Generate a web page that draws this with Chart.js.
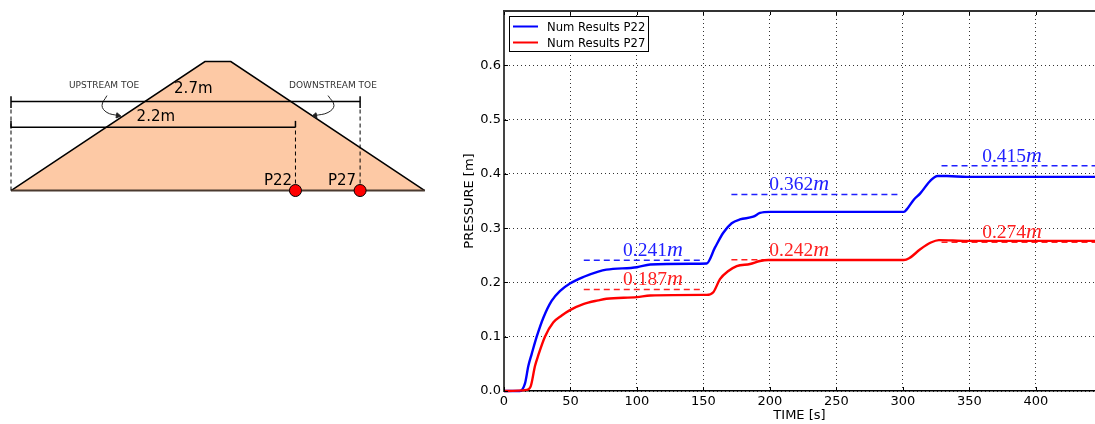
<!DOCTYPE html>
<html>
<head>
<meta charset="utf-8">
<title>Pressure at P22 and P27</title>
<script src="https://cdn.jsdelivr.net/npm/chart.js@4"></script>
<style>
    html, body { margin: 0; padding: 0; background: #fff; overflow: hidden; }
    canvas { position: absolute; top: 0; }
    #dam { left: 0; }
    #pressure { left: 440px; }
</style>
</head>
<body>
<canvas id="dam" width="440" height="424"></canvas>
<canvas id="pressure" width="655" height="424"></canvas>
<script>
// pressure curves
const timeP22 = [0, 12, 15.8, 18.3, 20.8, 24.6, 29.6, 35.8, 42, 49.6, 59.6, 70.9, 77, 100, 110, 140, 152.4, 158.6, 164.9, 171.2, 177.4, 187.4, 192.5, 200, 300.7, 303, 308, 313, 320.7, 326, 333, 348, 445];
const pressureP22 = [0, 0, 0.014, 0.046, 0.068, 0.1, 0.135, 0.166, 0.184, 0.198, 0.21, 0.22, 0.2235, 0.228, 0.233, 0.2345, 0.235, 0.264, 0.2915, 0.309, 0.316, 0.321, 0.328, 0.33, 0.33, 0.335, 0.352, 0.364, 0.3877, 0.396, 0.396, 0.3944, 0.3944];
const timeP27 = [0, 17, 20, 23.3, 25.8, 30.8, 37, 43.4, 49.6, 59.6, 70.9, 77, 100, 110, 150, 152.4, 157.4, 162.4, 168.7, 175, 185, 192.5, 198.7, 300.7, 304.6, 313, 321, 327, 348, 445];
const pressureP27 = [0, 0.002, 0.008, 0.046, 0.066, 0.1, 0.126, 0.139, 0.149, 0.16, 0.167, 0.17, 0.173, 0.176, 0.177, 0.177, 0.182, 0.206, 0.221, 0.23, 0.234, 0.2394, 0.2412, 0.2412, 0.2444, 0.261, 0.2735, 0.278, 0.2765, 0.2765];

// measured levels: value, start and end time of each dashed line
const levelP22 = [0.241, 0.362, 0.415];
const levelP22From = [60, 171, 329];
const levelP22To = [150, 297, 445];
const levelP27 = [0.187, 0.242, 0.274];
const levelP27From = [60, 171, 329];
const levelP27To = [150, 200, 445];
const levelLabelTime = [112, 222, 382];

const seriesNames = ['Num Results P22', 'Num Results P27'];
const xTicks = [0, 50, 100, 150, 200, 250, 300, 350, 400];
const yTicks = [0, 0.1, 0.2, 0.3, 0.4, 0.5, 0.6];

// dam section, in metres
const damX = [0, 1.5, 1.7, 3.2];
const damY = [0, 1, 1, 0];
const gaugeNames = ['P22', 'P27'];
const gaugeX = [2.2, 2.7];
const gaugeY = [0, 0];
const spanLengths = [2.7, 2.2];
const spanHeights = [0.69, 0.49];

function toPoints(xs, ys) {
    return xs.map((x, i) => ({ x: x, y: ys[i] }));
}

function levelLine(value, from, to, color) {
    return {
        data: [{ x: from, y: value }, { x: to, y: value }],
        showLine: true,
        borderColor: color,
        borderWidth: 1.5,
        borderDash: [6, 4],
        pointRadius: 0
    };
}

function diagramLine(points, extra) {
    return Object.assign({
        data: points,
        showLine: true,
        borderColor: '#000',
        borderWidth: 1.5,
        pointRadius: 0
    }, extra);
}

// frame, inward ticks, legend and the value labels of the pressure chart
const pressureExtras = {
    id: 'pressureExtras',
    afterDatasetsDraw(chart) {
        const ctx = chart.ctx;
        const area = chart.chartArea;
        const x = chart.scales.x;
        const y = chart.scales.y;

        ctx.save();
        ctx.strokeStyle = '#000';
        ctx.lineWidth = 1;
        ctx.beginPath();
        xTicks.forEach(v => {
            const px = Math.round(x.getPixelForValue(v)) + 0.5;
            ctx.moveTo(px, area.bottom);
            ctx.lineTo(px, area.bottom - 4);
            ctx.moveTo(px, area.top);
            ctx.lineTo(px, area.top + 4);
        });
        yTicks.forEach(v => {
            const py = Math.round(y.getPixelForValue(v)) + 0.5;
            ctx.moveTo(area.left, py);
            ctx.lineTo(area.left + 4, py);
        });
        ctx.stroke();

        // top spine
        ctx.strokeStyle = '#333';
        ctx.lineWidth = 2;
        ctx.beginPath();
        ctx.moveTo(area.left - 1, area.top);
        ctx.lineTo(area.right, area.top);
        ctx.stroke();

        // legend box
        const boxX = area.left + 5.5;
        const boxY = area.top + 5.5;
        ctx.fillStyle = '#fff';
        ctx.strokeStyle = '#000';
        ctx.lineWidth = 1;
        ctx.fillRect(boxX, boxY, 139, 35);
        ctx.strokeRect(boxX, boxY, 139, 35);
        ctx.font = '11.6px "DejaVu Sans"';
        ctx.textBaseline = 'middle';
        seriesNames.forEach((name, i) => {
            const rowY = boxY + 10 + i * 16;
            ctx.strokeStyle = i === 0 ? '#0000ff' : '#ff0000';
            ctx.lineWidth = 2;
            ctx.beginPath();
            ctx.moveTo(boxX + 3.5, rowY);
            ctx.lineTo(boxX + 28.5, rowY);
            ctx.stroke();
            ctx.fillStyle = '#000';
            ctx.fillText(name, boxX + 37.5, rowY + 1);
        });

        // value labels sit just above their dashed line
        ctx.textBaseline = 'alphabetic';
        function levelLabel(value, t, color) {
            const number = value.toFixed(3);
            ctx.fillStyle = color;
            ctx.font = '19.5px "Liberation Serif"';
            const w1 = ctx.measureText(number).width;
            ctx.font = 'italic 22px "Liberation Serif"';
            const w2 = ctx.measureText('m').width;
            const left = x.getPixelForValue(t) - (w1 + w2) / 2;
            const base = y.getPixelForValue(value) - 4;
            ctx.font = '19.5px "Liberation Serif"';
            ctx.fillText(number, left, base);
            ctx.font = 'italic 22px "Liberation Serif"';
            ctx.fillText('m', left + w1, base);
        }
        levelP22.forEach((v, i) => levelLabel(v, levelLabelTime[i], '#2020ff'));
        levelP27.forEach((v, i) => levelLabel(v, levelLabelTime[i], '#ff2020'));
        ctx.restore();
    }
};

new Chart(document.getElementById('pressure'), {
    type: 'scatter',
    data: {
        datasets: [
            {
                label: seriesNames[0],
                data: toPoints(timeP22, pressureP22),
                showLine: true,
                cubicInterpolationMode: 'monotone',
                borderColor: '#0000ff',
                borderWidth: 2.4,
                pointRadius: 0,
                clip: 3
            },
            {
                label: seriesNames[1],
                data: toPoints(timeP27, pressureP27),
                showLine: true,
                cubicInterpolationMode: 'monotone',
                borderColor: '#ff0000',
                borderWidth: 2.4,
                pointRadius: 0,
                clip: 3,
                order: -1
            }
        ].concat(
            levelP22.map((v, i) => levelLine(v, levelP22From[i], levelP22To[i], '#2020ff')),
            levelP27.map((v, i) => levelLine(v, levelP27From[i], levelP27To[i], '#ff2020'))
        )
    },
    options: {
        responsive: false,
        animation: false,
        layout: { padding: { top: 11, right: 0, bottom: 0, left: 0 } },
        plugins: { legend: { display: false }, tooltip: { enabled: false } },
        scales: {
            x: {
                type: 'linear',
                min: 0,
                max: 444.4,
                afterFit: s => { s.height = 33; },
                afterBuildTicks: s => { s.ticks = xTicks.map(v => ({ value: v })); },
                grid: { color: '#333', drawTicks: false, lineWidth: 1 },
                border: { color: '#000', width: 1.5, dash: [1, 3] },
                ticks: {
                    color: '#000',
                    padding: 3,
                    maxRotation: 0,
                    autoSkip: false,
                    font: { family: 'DejaVu Sans', size: 13 },
                    callback: v => String(v)
                },
                title: {
                    display: true,
                    text: 'TIME [s]',
                    color: '#000',
                    padding: { top: 0, bottom: 1 },
                    font: { family: 'DejaVu Sans', size: 13 }
                }
            },
            y: {
                min: 0,
                max: 0.7,
                afterFit: s => { s.width = 64; },
                afterBuildTicks: s => { s.ticks = yTicks.map(v => ({ value: v })); },
                grid: { color: '#333', drawTicks: false, lineWidth: 1 },
                border: { color: '#444', width: 2, dash: [1, 3] },
                ticks: {
                    color: '#000',
                    padding: 3,
                    autoSkip: false,
                    font: { family: 'DejaVu Sans', size: 13 },
                    callback: v => v.toFixed(1)
                },
                title: {
                    display: true,
                    text: 'PRESSURE [m]',
                    color: '#000',
                    padding: { top: 22, bottom: 0 },
                    font: { family: 'DejaVu Sans', size: 13 }
                }
            }
        }
    },
    plugins: [pressureExtras]
});

// labels of the dam section, placed in metres
const damLabels = {
    id: 'damLabels',
    afterDatasetsDraw(chart) {
        const ctx = chart.ctx;
        const x = chart.scales.x;
        const y = chart.scales.y;
        ctx.save();
        ctx.textAlign = 'center';
        ctx.textBaseline = 'middle';
        ctx.fillStyle = '#000';
        ctx.font = '15px "DejaVu Sans"';
        ctx.fillText(spanLengths[0] + 'm', x.getPixelForValue(1.41), y.getPixelForValue(0.79));
        ctx.fillText(spanLengths[1] + 'm', x.getPixelForValue(1.12), y.getPixelForValue(0.57));
        ctx.fillText(gaugeNames[0], x.getPixelForValue(2.065), y.getPixelForValue(0.07));
        ctx.fillText(gaugeNames[1], x.getPixelForValue(2.56), y.getPixelForValue(0.07));
        ctx.fillStyle = '#333';
        ctx.font = '9px "DejaVu Sans"';
        ctx.fillText('UPSTREAM TOE', x.getPixelForValue(0.72), y.getPixelForValue(0.81));
        ctx.fillText('DOWNSTREAM TOE', x.getPixelForValue(2.49), y.getPixelForValue(0.81));
        ctx.restore();
    }
};

const dashed = { borderWidth: 1, borderDash: [4, 3] };

new Chart(document.getElementById('dam'), {
    type: 'scatter',
    data: {
        datasets: [
            // gauges on top, the dam body last so it is painted first
            {
                data: toPoints(gaugeX, gaugeY),
                pointRadius: 6,
                pointBackgroundColor: '#ff0000',
                pointBorderColor: '#000',
                pointBorderWidth: 1
            },
            diagramLine([{ x: 0, y: spanHeights[0] }, { x: spanLengths[0], y: spanHeights[0] }]),
            diagramLine([{ x: 0, y: spanHeights[1] }, { x: spanLengths[1], y: spanHeights[1] }]),
            diagramLine([{ x: 0, y: 0.64 }, { x: 0, y: 0.73 }]),
            diagramLine([{ x: 0, y: 0.48 }, { x: 0, y: 0.54 }]),
            diagramLine([{ x: spanLengths[0], y: 0.64 }, { x: spanLengths[0], y: 0.73 }]),
            diagramLine([{ x: spanLengths[1], y: 0.49 }, { x: spanLengths[1], y: 0.54 }]),
            diagramLine([{ x: 0, y: 0 }, { x: 0, y: 0.64 }], dashed),
            diagramLine([{ x: spanLengths[1], y: 0 }, { x: spanLengths[1], y: 0.49 }], dashed),
            diagramLine([{ x: spanLengths[0], y: 0 }, { x: spanLengths[0], y: 0.64 }], dashed),
            // curved arrows from the toe labels
            diagramLine([{ x: 0.742, y: 0.736 }, { x: 0.704, y: 0.659 }, { x: 0.742, y: 0.605 }, { x: 0.827, y: 0.581 }], {
                borderWidth: 1,
                borderColor: '#222',
                tension: 0.4,
                pointStyle: 'triangle',
                pointRadius: [0, 0, 0, 3],
                pointRotation: 100,
                pointBackgroundColor: '#222',
                pointBorderColor: '#222'
            }),
            diagramLine([{ x: 2.452, y: 0.736 }, { x: 2.498, y: 0.659 }, { x: 2.452, y: 0.605 }, { x: 2.351, y: 0.581 }], {
                borderWidth: 1,
                borderColor: '#222',
                tension: 0.4,
                pointStyle: 'triangle',
                pointRadius: [0, 0, 0, 3],
                pointRotation: -100,
                pointBackgroundColor: '#222',
                pointBorderColor: '#222'
            }),
            diagramLine([{ x: damX[0], y: 0 }, { x: damX[3], y: 0 }], { borderColor: '#4a3a30', borderWidth: 2 }),
            diagramLine(toPoints(damX, damY), {
                fill: 'origin',
                backgroundColor: '#fdc9a5'
            })
        ]
    },
    options: {
        responsive: false,
        animation: false,
        layout: { padding: 0, autoPadding: false },
        plugins: { legend: { display: false }, tooltip: { enabled: false } },
        scales: {
            x: { type: 'linear', display: false, min: -0.0851, max: 3.3179 },
            y: { display: false, min: -1.81, max: 1.477 }
        }
    },
    plugins: [damLabels]
});
</script>
</body>
</html>
